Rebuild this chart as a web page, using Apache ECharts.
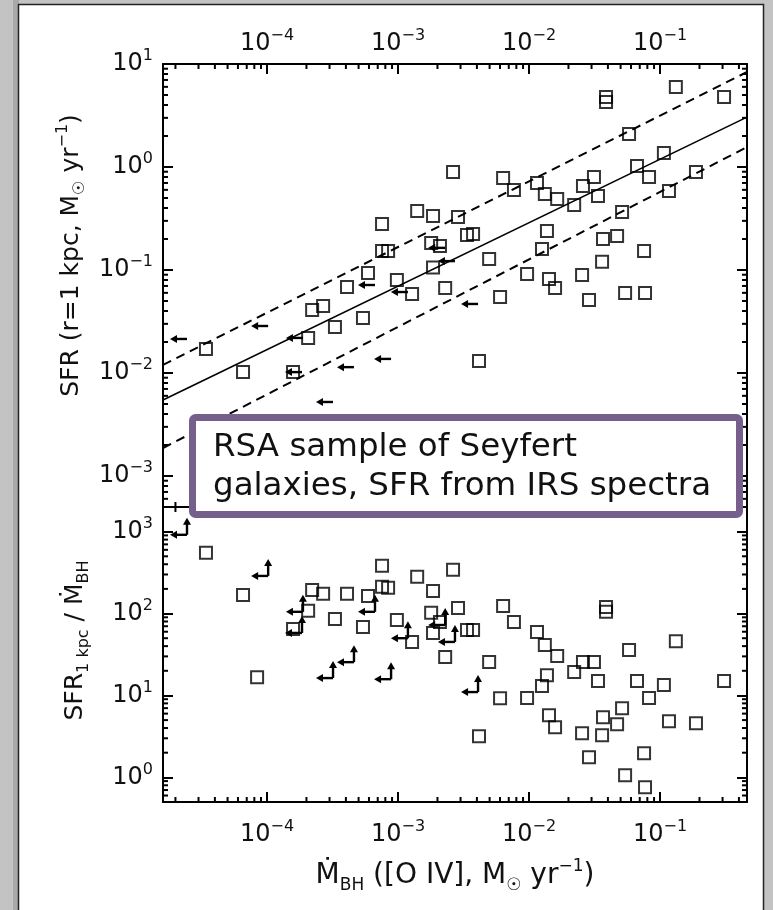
<!DOCTYPE html>
<html>
<head>
<meta charset="utf-8">
<script src="https://cdn.jsdelivr.net/npm/echarts@6/dist/echarts.min.js"></script>
<style>
  html, body { margin: 0; padding: 0; background: #c3c3c3; }
  #chart { width: 773px; height: 910px; }
</style>
</head>
<body>
<div id="chart"></div>
<script>
// Detected sources: BH accretion rate, SFR within 1 kpc, and SFR / accretion ratio
const mdot = [0.132, 0.0387, 0.0387, 0.308, 0.058, 0.107, 0.0667, 0.0824, 0.188, 0.117,
  0.00263, 0.00634, 0.00767, 0.0115, 0.0132, 0.0164, 0.0221, 0.0258, 0.0313, 0.0336,
  0.0513, 0.00185, 0.00287, 0.00336, 0.00374, 0.0137, 0.01256, 0.0367, 0.047, 0.0755,
  0.0361, 0.00496, 0.00966, 0.0142, 0.0158, 0.0254, 0.00229, 0.00601, 0.0287, 0.0541,
  0.0768, 0.00415, 0.0014, 0.000755, 0.00179, 0.00209, 0.000755, 0.00084, 0.00059, 0.00098,
  0.000408, 0.00185, 0.00128, 0.000206, 0.000221, 0.000268, 0.00033, 0.00054, 3.42e-5, 6.56e-5,
  0.000158, 8.4e-5];
const sfr = [5.98, 4.78, 4.28, 4.78, 2.09, 1.37, 1.02, 0.80, 0.894, 0.585,
  0.894, 0.782, 0.598, 0.699, 0.547, 0.489, 0.428, 0.654, 0.80, 0.523,
  0.366, 0.334, 0.327, 0.219, 0.224, 0.239, 0.160, 0.200, 0.214, 0.153,
  0.120, 0.128, 0.0915, 0.0818, 0.0669, 0.0894, 0.0669, 0.0547, 0.0511, 0.0598,
  0.0598, 0.0131, 0.374, 0.28, 0.183, 0.171, 0.153, 0.153, 0.0935, 0.080,
  0.0684, 0.1057, 0.0585, 0.0219, 0.0409, 0.0447, 0.028, 0.0342, 0.0171, 0.0102,
  0.0102, 0.0014];
const ratio = [46, 120, 105, 15.0, 35.8, 13.4, 15.0, 9.3, 4.58, 4.85,
  342, 124, 79, 59.6, 41.3, 30.3, 19.3, 25.6, 25.6, 15.0,
  7.0, 189, 117, 63, 63, 17.7, 13.0, 5.42, 4.45, 1.97,
  3.27, 25.6, 9.3, 5.74, 4.09, 3.46, 29.4, 9.27, 1.76, 1.06,
  0.755, 3.18, 281, 383, 102, 79, 212, 206, 164, 83.5,
  174, 58, 44.9, 108, 194, 174, 85.9, 68.6, 552, 169,
  64.7, 16.7];

// Sources with an upper limit on the accretion rate
const limMdot = [2.45e-5, 1.02e-4, 1.88e-4, 1.85e-4, 6.67e-4, 1.19e-3, 2.29e-3, 2.72e-3, 3.19e-4, 4.61e-4, 8.85e-4, 4.08e-3];
const limSfr = [0.0214, 0.0286, 0.0219, 0.0102, 0.0715, 0.0611, 0.164, 0.122, 0.00523, 0.0114, 0.0137, 0.0468];
const limRatio = [916, 288, 105, 58, 105, 50, 72.5, 45, 16.3, 25.5, 15.8, 11.0];

// Fit (solid) and scatter envelope (dashed), evaluated at the x-range edges
const fitMdot = [1.607e-5, 0.461];
const fitSfr = [0.00547, 3.05];
const fitHigh = [0.0120, 8.36];
const fitLow = [0.00187, 1.56];

// Axis ranges
const xRange = [1.607e-5, 0.461];
const sfrRange = [5e-4, 10];
const ratioRange = [0.5, 2000];
const minorSteps = [2, 3, 4, 5, 6, 7, 8, 9];

const FONT = '"DejaVu Sans", Verdana, sans-serif';
const INK = '#111';

function decadeLabel(v) {
  const e = Math.log10(v);
  const n = Math.round(e);
  if (Math.abs(e - n) > 1e-6) return '';
  return '{b|10}{s|' + String(n).replace('-', '\u2212') + '}';
}
const tickRich = {
  b: { fontFamily: FONT, fontSize: 24, color: INK, lineHeight: 32 },
  s: { fontFamily: FONT, fontSize: 16, color: INK, lineHeight: 14, verticalAlign: 'top' }
};
function nameRich(size) {
  const s = Math.round(size * 0.62);
  return {
    n: { fontFamily: FONT, fontSize: size, color: INK, lineHeight: size + 8 },
    sub: { fontFamily: FONT, fontSize: s, color: INK, lineHeight: s, verticalAlign: 'bottom' },
    sup: { fontFamily: FONT, fontSize: s, color: INK, lineHeight: s, verticalAlign: 'top' }
  };
}

function minorValues(r) {
  const out = [];
  const d0 = Math.floor(Math.log10(r[0]));
  const d1 = Math.ceil(Math.log10(r[1]));
  for (let d = d0; d <= d1; d++) {
    minorSteps.forEach(function (m) {
      const v = m * Math.pow(10, d);
      if (v > r[0] && v < r[1]) out.push(v);
    });
  }
  return out;
}

function logAxis(extra) {
  return Object.assign({
    type: 'log', logBase: 10,
    axisLine: { onZero: false, lineStyle: { color: '#000', width: 2 } },
    axisTick: { inside: true, length: 10, lineStyle: { color: '#000', width: 2 } },
    axisLabel: { show: false },
    splitLine: { show: false }
  }, extra);
}

function minorTickSeries(xi, yi, xr, yr) {
  const data = [];
  minorValues(xr).forEach(function (v) { data.push([v, yr[0], 0]); });
  minorValues(yr).forEach(function (v) { data.push([xr[0], v, 1]); });
  return {
    type: 'custom', xAxisIndex: xi, yAxisIndex: yi, silent: true, z: 3,
    encode: { x: 0, y: 1 },
    data: data,
    renderItem: function (params, api) {
      const cs = params.coordSys;
      const p = api.coord([api.value(0), api.value(1)]);
      const L = 5;
      const st = { stroke: '#000', lineWidth: 2 };
      if (api.value(2) === 0) {
        return { type: 'group', children: [
          { type: 'line', shape: { x1: p[0], y1: cs.y, x2: p[0], y2: cs.y + L }, style: st },
          { type: 'line', shape: { x1: p[0], y1: cs.y + cs.height, x2: p[0], y2: cs.y + cs.height - L }, style: st }
        ] };
      }
      return { type: 'group', children: [
        { type: 'line', shape: { x1: cs.x, y1: p[1], x2: cs.x + L, y2: p[1] }, style: st },
        { type: 'line', shape: { x1: cs.x + cs.width, y1: p[1], x2: cs.x + cs.width - L, y2: p[1] }, style: st }
      ] };
    }
  };
}

function zipPts(a, b) { return a.map(function (v, i) { return [v, b[i]]; }); }

const squareStyle = { color: 'rgba(0,0,0,0)', borderColor: '#000', borderWidth: 2 };
const ARROW = 17;

function leftArrow(p) {
  return [
    { type: 'line', shape: { x1: p[0], y1: p[1], x2: p[0] - ARROW + 5, y2: p[1] }, style: { stroke: '#000', lineWidth: 2.4 } },
    { type: 'polygon', shape: { points: [[p[0] - ARROW, p[1]], [p[0] - ARROW + 7, p[1] - 4], [p[0] - ARROW + 7, p[1] + 4]] }, style: { fill: '#000' } }
  ];
}
function upArrow(p) {
  return [
    { type: 'line', shape: { x1: p[0], y1: p[1], x2: p[0], y2: p[1] - ARROW + 5 }, style: { stroke: '#000', lineWidth: 2.4 } },
    { type: 'polygon', shape: { points: [[p[0], p[1] - ARROW], [p[0] - 4, p[1] - ARROW + 7], [p[0] + 4, p[1] - ARROW + 7]] }, style: { fill: '#000' } }
  ];
}

const chart = echarts.init(document.getElementById('chart'), null, { renderer: 'canvas' });

chart.setOption({
  animation: false,
  backgroundColor: '#c3c3c3',
  grid: [
    { left: 163, top: 64, width: 584, height: 443 },
    { left: 163, top: 507, width: 584, height: 295 }
  ],
  xAxis: [
    logAxis({ gridIndex: 0, position: 'bottom', min: xRange[0], max: xRange[1] }),
    logAxis({ gridIndex: 0, position: 'top', min: xRange[0], max: xRange[1],
      axisLabel: { show: true, formatter: decadeLabel, rich: tickRich, margin: 4 } }),
    logAxis({ gridIndex: 1, position: 'top', min: xRange[0], max: xRange[1] }),
    logAxis({ gridIndex: 1, position: 'bottom', min: xRange[0], max: xRange[1],
      axisLabel: { show: true, formatter: decadeLabel, rich: tickRich, margin: 17 },
      name: '{n|\u1E40}{sub|BH}{n| ([O IV], M}{sub|\u2609}{n| yr}{sup|\u22121}{n|)}',
      nameLocation: 'middle', nameGap: 56,
      nameTextStyle: { fontFamily: FONT, fontSize: 28, color: INK, rich: nameRich(28) } })
  ],
  yAxis: [
    logAxis({ gridIndex: 0, position: 'left', min: sfrRange[0], max: sfrRange[1],
      axisLabel: { show: true, formatter: decadeLabel, rich: tickRich, margin: 10 },
      name: '{n|SFR (r=1 kpc, M}{sub|\u2609}{n| yr}{sup|\u22121}{n|)}',
      nameLocation: 'middle', nameRotate: 90, nameGap: 71,
      nameTextStyle: { fontFamily: FONT, fontSize: 25, color: INK, rich: nameRich(25), padding: [0, 0, 0, 60] } }),
    logAxis({ gridIndex: 0, position: 'right', min: sfrRange[0], max: sfrRange[1] }),
    logAxis({ gridIndex: 1, position: 'left', min: ratioRange[0], max: ratioRange[1],
      axisLabel: { show: true, formatter: decadeLabel, rich: tickRich, margin: 10 },
      name: '{n|SFR}{sub|1 kpc}{n| / \u1E40}{sub|BH}',
      nameLocation: 'middle', nameRotate: 90, nameGap: 71,
      nameTextStyle: { fontFamily: FONT, fontSize: 25, color: INK, rich: nameRich(25), padding: [0, 0, 0, 28] } }),
    logAxis({ gridIndex: 1, position: 'right', min: ratioRange[0], max: ratioRange[1] })
  ],
  series: [
    minorTickSeries(0, 0, xRange, sfrRange),
    minorTickSeries(3, 2, xRange, ratioRange),
    {
      type: 'line', xAxisIndex: 0, yAxisIndex: 0, showSymbol: false, silent: true,
      data: zipPts(fitMdot, fitSfr), lineStyle: { color: '#000', width: 1.6 }
    },
    {
      type: 'line', xAxisIndex: 0, yAxisIndex: 0, showSymbol: false, silent: true,
      data: zipPts(fitMdot, fitHigh), lineStyle: { color: '#000', width: 2, type: [9, 6] }
    },
    {
      type: 'line', xAxisIndex: 0, yAxisIndex: 0, showSymbol: false, silent: true,
      data: zipPts(fitMdot, fitLow), lineStyle: { color: '#000', width: 2, type: [9, 6] }
    },
    {
      type: 'scatter', xAxisIndex: 0, yAxisIndex: 0, symbol: 'rect', symbolSize: 12,
      data: zipPts(mdot, sfr), itemStyle: squareStyle
    },
    {
      type: 'scatter', xAxisIndex: 3, yAxisIndex: 2, symbol: 'rect', symbolSize: 12,
      data: zipPts(mdot, ratio), itemStyle: squareStyle
    },
    {
      type: 'custom', xAxisIndex: 0, yAxisIndex: 0, silent: true,
      data: zipPts(limMdot, limSfr),
      renderItem: function (params, api) {
        const p = api.coord([api.value(0), api.value(1)]);
        return { type: 'group', children: leftArrow(p) };
      }
    },
    {
      type: 'custom', xAxisIndex: 3, yAxisIndex: 2, silent: true,
      data: zipPts(limMdot, limRatio),
      renderItem: function (params, api) {
        const p = api.coord([api.value(0), api.value(1)]);
        return { type: 'group', children: leftArrow(p).concat(upArrow(p)) };
      }
    }
  ],
  graphic: [
    { type: 'rect', z: -10, silent: true, shape: { x: 13, y: 0, width: 6, height: 910 }, style: { fill: '#a9a9a9' } },
    { type: 'rect', z: -9, silent: true, shape: { x: 18.5, y: 4.5, width: 745, height: 910 },
      style: { fill: '#ffffff', stroke: '#222', lineWidth: 1.5 } },
    { type: 'rect', z: 100, silent: true, shape: { x: 192.5, y: 417.5, width: 547, height: 97, r: 3 },
      style: { fill: '#ffffff', stroke: '#765f8b', lineWidth: 7 } },
    { type: 'text', z: 101, silent: true, x: 213, y: 428.5,
      style: { text: 'RSA sample of Seyfert\ngalaxies, SFR from IRS spectra',
        font: '32.5px "DejaVu Sans", Verdana, sans-serif', fill: '#111', lineHeight: 39,
        verticalAlign: 'top', align: 'left' } }
  ]
});
</script>
</body>
</html>
